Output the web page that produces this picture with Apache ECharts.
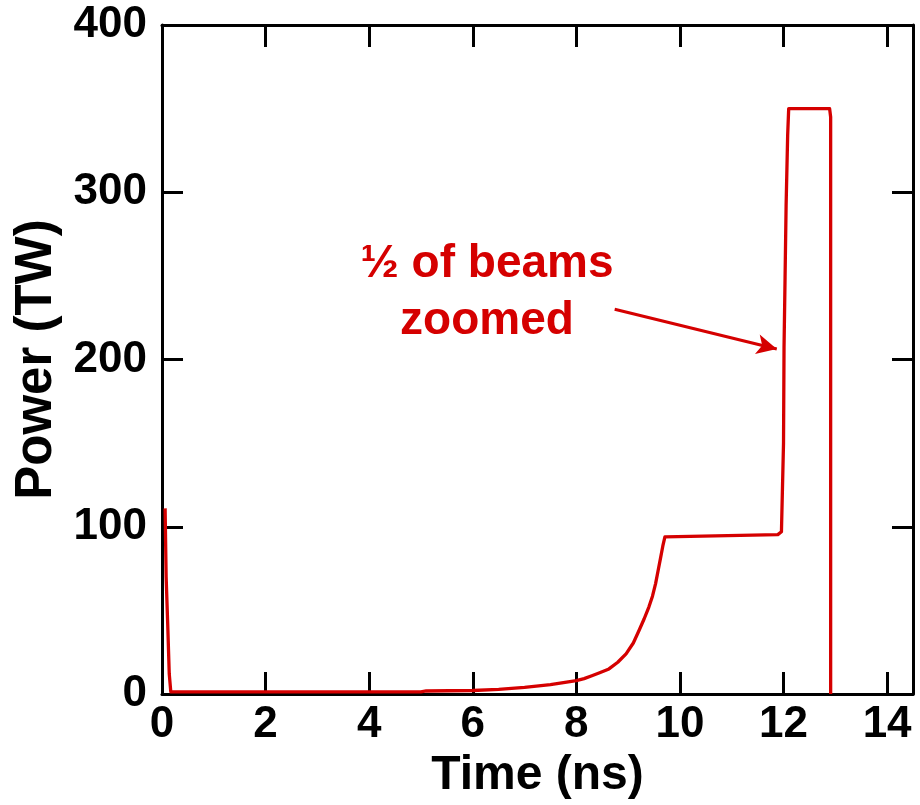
<!DOCTYPE html>
<html>
<head>
<meta charset="utf-8">
<script src="https://cdn.jsdelivr.net/npm/echarts@6/dist/echarts.min.js"></script>
<style>
  html, body { margin: 0; padding: 0; background: #ffffff; }
  #chart { width: 920px; height: 805px; }
</style>
</head>
<body>
<div id="chart"></div>
<script>
// Laser pulse shape: power (TW) versus time (ns)
const timeNs = [
  0.06, 0.08, 0.11, 0.14, 0.17,
  1.0, 2.0, 3.0, 4.0, 5.0, 5.1, 6.0, 6.5, 7.0, 7.5, 8.0, 8.15, 8.3, 8.45,
  8.63, 8.8, 8.96, 9.1, 9.21, 9.31, 9.40, 9.47, 9.53, 9.58, 9.63, 9.67, 9.71, 9.74,
  11.89, 11.96, 12.0, 12.01, 12.03, 12.05, 12.08, 12.10,
  12.89, 12.91, 12.91
];
const powerTW = [
  111, 70, 42, 12, 1.3,
  1.3, 1.3, 1.3, 1.3, 1.3, 1.8, 2.1, 2.8, 4.0, 5.6, 8.0, 9.2, 10.9, 12.7,
  15.0, 19.0, 24.0, 30.5, 38.0, 45.0, 52.0, 58.5, 66.0, 74.0, 82.0, 88.5, 94.0, 95.0,
  95.3, 97.0, 150, 207, 249, 292, 334, 350,
  350, 345, 0
];
const xTicks = [0, 2, 4, 6, 8, 10, 12, 14];
const yTicks = [0, 100, 200, 300, 400];

const RED = '#d50000';
const FONT = '"Liberation Sans", Arial, Helvetica, sans-serif';

const pulse = timeNs.map((t, i) => [t, powerTW[i]]);

const chart = echarts.init(document.getElementById('chart'), null, { renderer: 'canvas' });

const frameLine = { show: true, onZero: false, lineStyle: { color: '#000', width: 3 } };

chart.setOption({
  animation: false,
  backgroundColor: '#ffffff',
  grid: { left: 162, right: 7, top: 25, bottom: 111, containLabel: false },
  xAxis: [
    {
      type: 'value', position: 'bottom', min: 0, max: 14.5,
      axisLine: frameLine,
      axisTick: { show: true, inside: true, length: 22, customValues: xTicks, lineStyle: { color: '#000', width: 3 } },
      axisLabel: { show: true, customValues: xTicks, margin: 9, color: '#000', fontFamily: FONT, fontWeight: 'bold', fontSize: 44 },
      splitLine: { show: false },
      name: 'Time (ns)', nameLocation: 'middle', nameGap: 58,
      nameTextStyle: { color: '#000', fontFamily: FONT, fontWeight: 'bold', fontSize: 48 }
    },
    {
      type: 'value', position: 'top', min: 0, max: 14.5,
      axisLine: frameLine,
      axisTick: { show: true, inside: true, length: 22, customValues: xTicks, lineStyle: { color: '#000', width: 3 } },
      axisLabel: { show: false },
      splitLine: { show: false }
    }
  ],
  yAxis: [
    {
      type: 'value', position: 'left', min: 0, max: 400, interval: 100,
      axisLine: frameLine,
      axisTick: { show: true, inside: true, length: 21, customValues: yTicks, lineStyle: { color: '#000', width: 3 } },
      axisLabel: { show: true, customValues: yTicks, margin: 15, color: '#000', fontFamily: FONT, fontWeight: 'bold', fontSize: 44 },
      splitLine: { show: false },
      name: 'Power (TW)', nameLocation: 'middle', nameGap: 96,
      nameTextStyle: { color: '#000', fontFamily: FONT, fontWeight: 'bold', fontSize: 51 }
    },
    {
      type: 'value', position: 'right', min: 0, max: 400, interval: 100,
      axisLine: frameLine,
      axisTick: { show: true, inside: true, length: 21, customValues: yTicks, lineStyle: { color: '#000', width: 3 } },
      axisLabel: { show: false },
      splitLine: { show: false }
    }
  ],
  series: [
    {
      type: 'line',
      xAxisIndex: 0, yAxisIndex: 0,
      data: pulse,
      showSymbol: false,
      symbol: 'none',
      lineStyle: { color: RED, width: 3.3, join: 'round' },
      z: 1,
      markLine: {
        silent: true,
        symbol: ['none', 'arrow'],
        symbolSize: [15, 20],
        label: { show: false },
        lineStyle: { color: RED, width: 3, type: 'solid' },
        emphasis: { disabled: true },
        data: [[{ coord: [8.74, 230] }, { coord: [11.87, 206.3] }]]
      }
    }
  ],
  graphic: [
    {
      type: 'text',
      x: 487, y: 236,
      style: {
        text: '½ of beams\nzoomed',
        fill: RED,
        font: 'bold 46px ' + FONT,
        align: 'center',
        verticalAlign: 'top',
        lineHeight: 57
      }
    }
  ]
});
</script>
</body>
</html>
